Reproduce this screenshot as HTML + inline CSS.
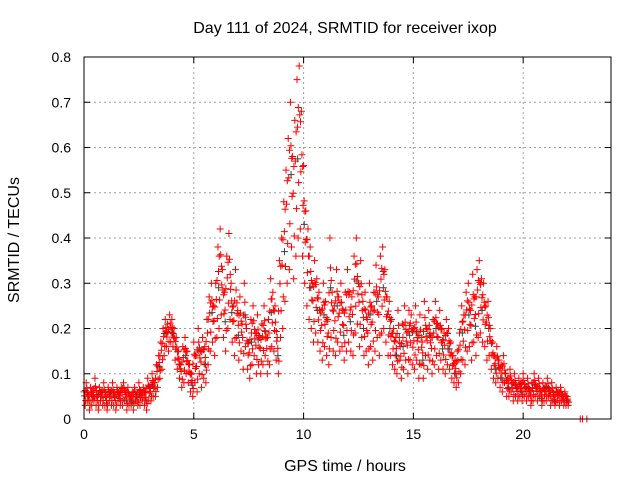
<!DOCTYPE html>
<html><head><meta charset="utf-8"><style>
body{margin:0;background:#fff;}
svg{display:block;font-family:"Liberation Sans",sans-serif;}
</style></head><body>
<svg id="chart" width="640" height="480">
<text x="345" y="33" text-anchor="middle" font-size="16">Day 111 of 2024, SRMTID for receiver ixop</text>
<text transform="translate(19,240) rotate(-90)" text-anchor="middle" font-size="16">SRMTID / TECUs</text>
<text x="345" y="471" text-anchor="middle" font-size="16">GPS time / hours</text>
<g id="grid"></g><g id="ticks"></g><g id="marks"></g>
<rect x="84" y="57" width="527" height="362" fill="none" stroke="#000" stroke-width="1"/>
</svg>
<script>
const xTicks=[0,5,10,15,20];
const yTicks=[0,0.1,0.2,0.3,0.4,0.5,0.6,0.7,0.8];
const yTickLabels=["0","0.1","0.2","0.3","0.4","0.5","0.6","0.7","0.8"];
const tStart=0, tStep=0.1;
const srmtidHigh=[.06,.08,.05,.07,.06,.09,.05,.07,.06,.08,.05,.07,.06,.08,.05,.07,.06,.07,.08,.06,.07,.05,.06,.07,.05,.08,.06,.07,.06,.09,
.07,.10,.08,.12,.14,.17,.20,.22,.21,.23,
.22,.20,.18,.15,.12,.16,.18,.15,.12,.10,
.17,.14,.20,.15,.18,.16,.22,.27,.30,.25,
.30,.38,.42,.33,.28,.36,.41,.30,.25,.33,
.24,.27,.21,.30,.20,.17,.22,.25,.19,.23,
.18,.21,.25,.18,.22,.31,.28,.25,.18,.35,
.40,.48,.55,.62,.70,.58,.66,.75,.78,.68,
.56,.46,.42,.38,.30,.35,.31,.28,.24,.30,
.26,.22,.40,.28,.25,.33,.27,.30,.24,.28,
.33,.28,.27,.36,.40,.30,.35,.26,.28,.22,
.30,.25,.28,.34,.27,.36,.38,.33,.27,.26,
.22,.20,.18,.24,.16,.21,.25,.19,.24,.23,
.20,.25,.18,.23,.17,.26,.20,.24,.18,.22,
.26,.21,.24,.20,.19,.22,.20,.17,.14,.13,
.15,.19,.25,.23,.28,.30,.24,.32,.27,.33,
.35,.31,.30,.25,.26,.20,.17,.14,.16,.13,
.12,.14,.10,.09,.11,.08,.10,.07,.09,.08,
.10,.07,.09,.06,.08,.10,.07,.09,.06,.08,
.07,.09,.06,.08,.05,.07,.06,.07,.05,.06,.05];
const srmtidLow=[.03,.04,.02,.03,.04,.03,.02,.04,.03,.03,.02,.04,.03,.03,.02,.04,.03,.03,.04,.02,.03,.03,.02,.04,.03,.03,.04,.03,.02,.04,
.04,.05,.05,.07,.09,.11,.14,.16,.15,.17,
.16,.13,.11,.09,.07,.08,.10,.08,.06,.05,
.08,.06,.10,.07,.09,.08,.12,.15,.17,.14,
.18,.20,.23,.18,.15,.20,.22,.17,.14,.18,
.13,.15,.11,.16,.11,.09,.12,.14,.10,.12,
.10,.12,.14,.10,.12,.16,.15,.13,.10,.18,
.20,.26,.30,.33,.38,.31,.36,.40,.42,.36,
.30,.25,.22,.20,.17,.19,.17,.15,.13,.16,
.14,.12,.18,.15,.14,.17,.15,.16,.13,.15,
.17,.15,.14,.19,.21,.16,.18,.14,.15,.12,
.16,.13,.15,.18,.14,.19,.20,.17,.14,.14,
.12,.11,.10,.13,.09,.11,.13,.10,.13,.12,
.11,.13,.09,.12,.09,.14,.11,.13,.10,.12,
.14,.11,.13,.11,.10,.12,.11,.09,.08,.07,
.08,.10,.13,.12,.15,.16,.13,.17,.14,.18,
.19,.17,.16,.13,.14,.11,.09,.08,.09,.07,
.06,.08,.05,.05,.06,.04,.05,.04,.05,.04,
.05,.04,.05,.03,.04,.05,.04,.05,.03,.04,
.04,.05,.03,.04,.03,.04,.03,.04,.03,.03,.03];
const tailTimes=[22.6,22.7,22.9];
const tailValues=[0,0,0];
const NS="http://www.w3.org/2000/svg";
const X0=84,X1=611,Y0=419,Y1=57,XMAX=24,YMAX=0.8;
function xs(t){return X0+(X1-X0)*t/XMAX;}
function ys(v){return Y0-(Y0-Y1)*v/YMAX;}
const grid=document.getElementById('grid'),ticks=document.getElementById('ticks'),marks=document.getElementById('marks');
function mk(tag,attrs,parent){const e=document.createElementNS(NS,tag);for(const k in attrs)e.setAttribute(k,attrs[k]);parent.appendChild(e);return e;}
xTicks.forEach(t=>{
  const x=xs(t);
  if(t>0){const g=mk('line',{x1:x,x2:x,y1:Y0,y2:Y1,stroke:'#a0a0a0','stroke-dasharray':'2,3'},grid);
  
  }
  mk('line',{x1:x,x2:x,y1:Y0,y2:Y0-6,stroke:'#000'},ticks);
  mk('line',{x1:x,x2:x,y1:Y1,y2:Y1+6,stroke:'#000'},ticks);
  const l=mk('text',{x:x,y:Y0+20,'text-anchor':'middle','font-size':'14'},ticks);
  l.textContent=t;
  
  
});
yTicks.forEach((v,i)=>{
  const y=ys(v);
  if(v>0&&v<YMAX){const g=mk('line',{x1:X0,x2:X1,y1:y,y2:y,stroke:'#a0a0a0','stroke-dasharray':'2,3'},grid);
  
  }
  mk('line',{x1:X0,x2:X0+6,y1:y,y2:y,stroke:'#000'},ticks);
  mk('line',{x1:X1,x2:X1-6,y1:y,y2:y,stroke:'#000'},ticks);
  const l=mk('text',{x:X0-13,y:y+5,'text-anchor':'end','font-size':'14'},ticks);
  l.textContent=yTickLabels[i];
  
  
});
function plus(t,v,color){
  const x=xs(t),y=ys(v);
  const p=mk('path',{d:`M${x-3.5},${y}H${x+3.5}M${x},${y-3.5}V${y+3.5}`,stroke:color,'stroke-width':'1',fill:'none'},marks);
  
  
}
srmtidHigh.forEach((hi,i)=>{
  const lo=srmtidLow[i],t=tStart+i*tStep;
  if(i%3===1)plus(t+0.03,(hi+lo)/2,'#404040');
  plus(t,hi,'#ff0000');
  plus(t+0.05,lo,'#ff0000');
  plus(t+0.025,lo+(hi-lo)*0.7,'#ff0000');
  plus(t+0.075,lo+(hi-lo)*0.35,'#ff0000');
  if(i+1<srmtidHigh.length){plus(t+0.06,(hi+srmtidHigh[i+1])/2*0.9,'#ff0000');}
});
tailTimes.forEach((t,i)=>plus(t,tailValues[i],'#ff0000'));
</script>
</body></html>
